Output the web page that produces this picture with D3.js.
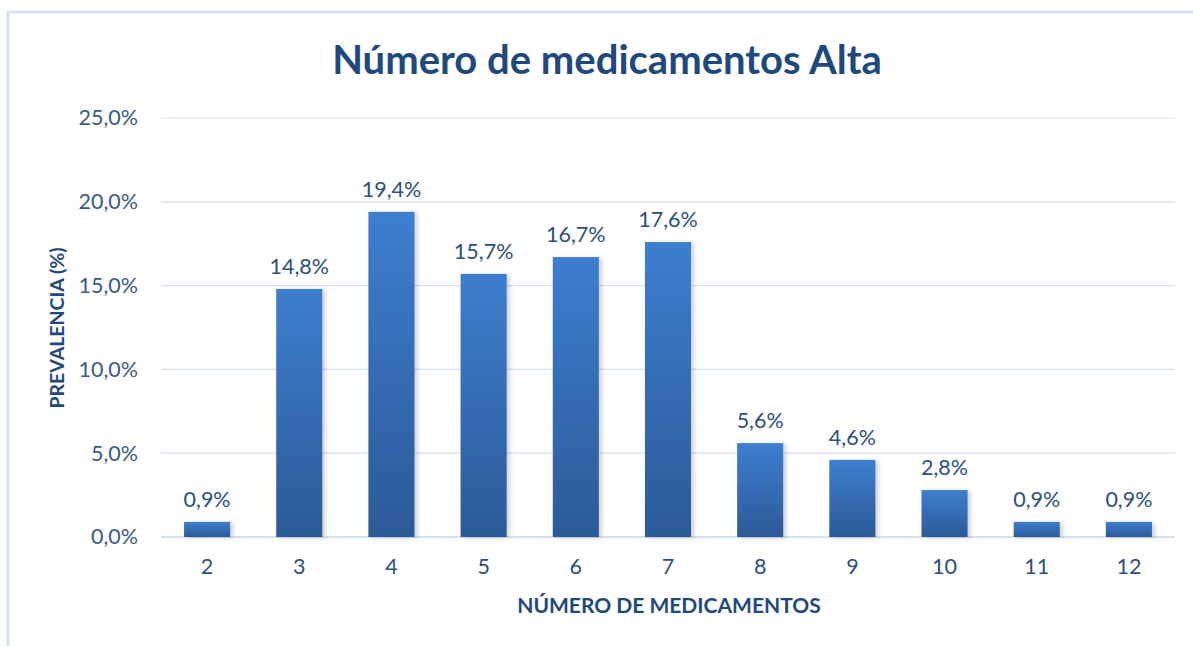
<!DOCTYPE html>
<html><head><meta charset="utf-8">
<script src="https://cdn.jsdelivr.net/npm/d3@7"></script>
<style>body{margin:0;background:#fff;}svg{display:block;}</style>
</head><body>
<svg id="c" width="1193" height="646"></svg>
<script>
const categories = ["2","3","4","5","6","7","8","9","10","11","12"];
const values = [0.9, 14.8, 19.4, 15.7, 16.7, 17.6, 5.6, 4.6, 2.8, 0.9, 0.9];
const yTicks = [0, 5, 10, 15, 20, 25];
const title = "Número de medicamentos Alta";
const xTitle = "NÚMERO DE MEDICAMENTOS";
const yTitle = "PREVALENCIA (%)";

const svg = d3.select("#c");
const W = 1193, H = 646;
const m = {left: 161, right: 18, top: 118, bottom: 109};
const fmt = v => v.toFixed(1).replace(".", ",") + "%";
const font = "Lato, 'Open Sans', sans-serif";

// border (left & top)
svg.append("line").attr("x1",8).attr("x2",8).attr("y1",12).attr("y2",H).attr("stroke","#d3e0f1").attr("stroke-width",2.5);
svg.append("line").attr("x1",7).attr("x2",W).attr("y1",12).attr("y2",12).attr("stroke","#d3e0f1").attr("stroke-width",2.5);

const x = d3.scaleBand().domain(categories).range([m.left, W - m.right]).paddingInner(0.5).paddingOuter(0.25);
const y = d3.scaleLinear().domain([0, 25]).range([H - m.bottom, m.top]);

const defs = svg.append("defs");
const g = defs.append("linearGradient").attr("id","bg").attr("x1",0).attr("x2",0).attr("y1",0).attr("y2",1);
g.append("stop").attr("offset","0%").attr("stop-color","#3d7ecf");
g.append("stop").attr("offset","100%").attr("stop-color","#2c5a97");
const f = defs.append("filter").attr("id","sh").attr("x","-20%").attr("y","-20%").attr("width","150%").attr("height","150%");
f.append("feDropShadow").attr("dx",3).attr("dy",1).attr("stdDeviation",2).attr("flood-color","#000").attr("flood-opacity",0.18);

// gridlines
svg.append("g").selectAll("line").data(yTicks).join("line")
  .attr("x1", m.left).attr("x2", W - m.right)
  .attr("y1", d => y(d)).attr("y2", d => y(d))
  .attr("stroke", "#d6e1ef").attr("stroke-width", d => d === 0 ? 2 : 1.2);

// y axis labels
const yAxis = d3.axisLeft(y).tickValues(yTicks).tickFormat(fmt).tickSize(0).tickPadding(23);
const ya = svg.append("g").attr("transform", `translate(${m.left},0)`).call(yAxis);
ya.select(".domain").remove();
ya.selectAll("text").attr("font-family", font).attr("font-size", 21.5).attr("fill", "#3a5a88");

// x axis labels
const xAxis = d3.axisBottom(x).tickSize(0).tickPadding(22);
const xa = svg.append("g").attr("transform", `translate(0,${H - m.bottom})`).call(xAxis);
xa.select(".domain").remove();
xa.selectAll("text").attr("font-family", font).attr("font-size", 21.5).attr("fill", "#2b4f80");

// bars
svg.append("g").selectAll("rect").data(values).join("rect")
  .attr("x", (d, i) => x(categories[i]))
  .attr("width", x.bandwidth())
  .attr("y", d => y(d))
  .attr("height", d => y(0) - y(d))
  .attr("fill", "url(#bg)")
  .attr("filter", "url(#sh)");

// data labels
svg.append("g").selectAll("text").data(values).join("text")
  .attr("x", (d, i) => x(categories[i]) + x.bandwidth() / 2)
  .attr("y", d => y(d) - 15)
  .attr("text-anchor", "middle")
  .attr("font-family", font).attr("font-size", 21.5).attr("fill", "#2b4f80")
  .text(fmt);

// title
svg.append("text").attr("x", 607).attr("y", 74).attr("text-anchor", "middle")
  .attr("font-family", font).attr("font-weight", "bold").attr("font-size", 40).attr("fill", "#1f497d")
  .text(title);

// axis titles
svg.append("text").attr("x", 669).attr("y", 613).attr("text-anchor", "middle")
  .attr("font-family", font).attr("font-weight", "bold").attr("font-size", 21).attr("fill", "#1f497d")
  .text(xTitle);
svg.append("text").attr("transform", "translate(64,328) rotate(-90)").attr("text-anchor", "middle")
  .attr("font-family", font).attr("font-weight", "bold").attr("font-size", 19.5).attr("fill", "#1f497d")
  .text(yTitle);
</script>
</body></html>
